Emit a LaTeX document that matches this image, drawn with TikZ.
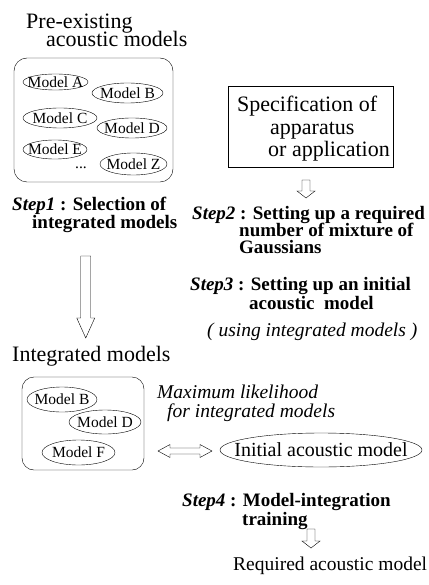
\documentclass[tikz,border=0pt]{standalone}
\usepackage{fontspec}
\setmainfont{Liberation Serif}
\usetikzlibrary{shapes, positioning}

% hollow block arrow pointing down: shaft half width / head half width / head start / length
\tikzset{pics/hollow/.style args={#1/#2/#3/#4}{code={
  \draw[fill=white] (-#1,0) -- (#1,0) -- (#1,#3) -- (#2,#3) -- (0,#4) -- (-#2,#3) -- (-#1,#3) -- cycle;
}}}

\begin{document}
\begin{tikzpicture}[x=1pt, y=-1pt,
    txt/.style={inner sep=0pt, anchor=base west},
    big/.style={txt, font=\fontsize{22}{22}\selectfont},
    stp/.style={txt, font=\fontsize{19}{19}\selectfont\bfseries},
    itl/.style={txt, font=\fontsize{19.5}{19.5}\selectfont\itshape},
    mdl/.style={draw, ellipse, inner xsep=-8pt, inner ysep=0pt, font=\fontsize{15.5}{15.5}\selectfont},
    grp/.style={draw, rounded corners=13pt, inner sep=0pt},
  ]
  \useasboundingbox (0,0) rectangle (428,585);
  % Pre-existing models
  \node[big] (pretitle) at (26,29) {Pre-existing};
  \node[big] (pretitleb) at (46,47) {acoustic models};
  \node[grp, minimum width=159pt, minimum height=124pt] (pre) at (93.5,120) {};
  \node[mdl, minimum width=65pt, minimum height=16pt] (ma) at (55.5,82) {Model A};
  \node[mdl, minimum width=71pt, minimum height=20pt] (mb) at (127.5,93) {Model B};
  \node[mdl, minimum width=74pt, minimum height=20pt] (mc) at (60,118) {Model C};
  \node[mdl, minimum width=70pt, minimum height=20pt] (md) at (132,128) {Model D};
  \node[mdl, minimum width=64pt, minimum height=19pt] (me) at (55,149.5) {Model E};
  \node[mdl, minimum width=67pt, minimum height=22pt] (mz) at (133.5,164) {Model Z};
  \node[txt, font=\fontsize{15.5}{15.5}\selectfont] (dots) at (75,169) {...};
  \node[stp] (step1) at (12,211) {\textit{Step1} : Selection of};
  \node[stp] (step1b) at (32,228) {integrated models};
  \pic at (85.75,256) {hollow=5/9/62/82};
  % Integrated models
  \node[big] (inttitle) at (12,361) {Integrated models};
  \node[grp, minimum width=122pt, minimum height=93pt, rounded corners=12pt] (int) at (83,423.5) {};
  \node[mdl, minimum width=70pt, minimum height=25pt] (ib) at (62,399.5) {Model B};
  \node[mdl, minimum width=72pt, minimum height=24pt] (id) at (105,422) {Model D};
  \node[mdl, minimum width=73pt, minimum height=25pt] (if) at (78.5,452.5) {Model F};
  % Specification
  \node[draw, inner sep=0pt, minimum width=165pt, minimum height=81pt] (spec) at (310.5,127) {};
  \node[txt, font=\fontsize{22}{22}\selectfont] (speca) at (237,112) {Specification of};
  \node[txt, font=\fontsize{22}{22}\selectfont] (specb) at (270,135) {apparatus};
  \node[txt, font=\fontsize{22}{22}\selectfont] (specc) at (268,157) {or application};
  \pic at (306,180) {hollow=4/9/11/18};
  \node[stp] (step2) at (192,219) {\textit{Step2} : Setting up a required};
  \node[stp] (step2b) at (239,236) {number of mixture of};
  \node[stp] (step2c) at (239,253) {Gaussians};
  \node[stp] (step3) at (190,290) {\textit{Step3} : Setting up an initial};
  \node[stp] (step3b) at (249,309) {acoustic\ \ model};
  \node[itl] (using) at (207,336) {( using integrated models )};
  % Maximum likelihood
  \node[itl] (ml) at (157,398) {Maximum likelihood};
  \node[itl] (mlb) at (167,417) {for integrated models};
  \draw[fill=white] (158,451) -- ++(12,-6.5) -- ++(0,3.5) -- ++(30,0) -- ++(0,-3.5)
    -- ++(12,6.5) -- ++(-12,6.5) -- ++(0,-3.5) -- ++(-30,0) -- ++(0,3.5) -- cycle;
  \node[draw, ellipse, inner xsep=-20pt, inner ysep=0pt, minimum width=202pt, minimum height=34pt,
    font=\fontsize{20}{20}\selectfont] (init) at (321,450) {Initial acoustic model};
  \node[stp] (step4) at (182,506) {\textit{Step4} : Model-integration};
  \node[stp] (step4b) at (242,525) {training};
  \pic at (311,529) {hollow=4/9/12/19};
  \node[txt, font=\fontsize{19.5}{19.5}\selectfont] (req) at (233,570) {Required acoustic model};
\end{tikzpicture}
\end{document}
